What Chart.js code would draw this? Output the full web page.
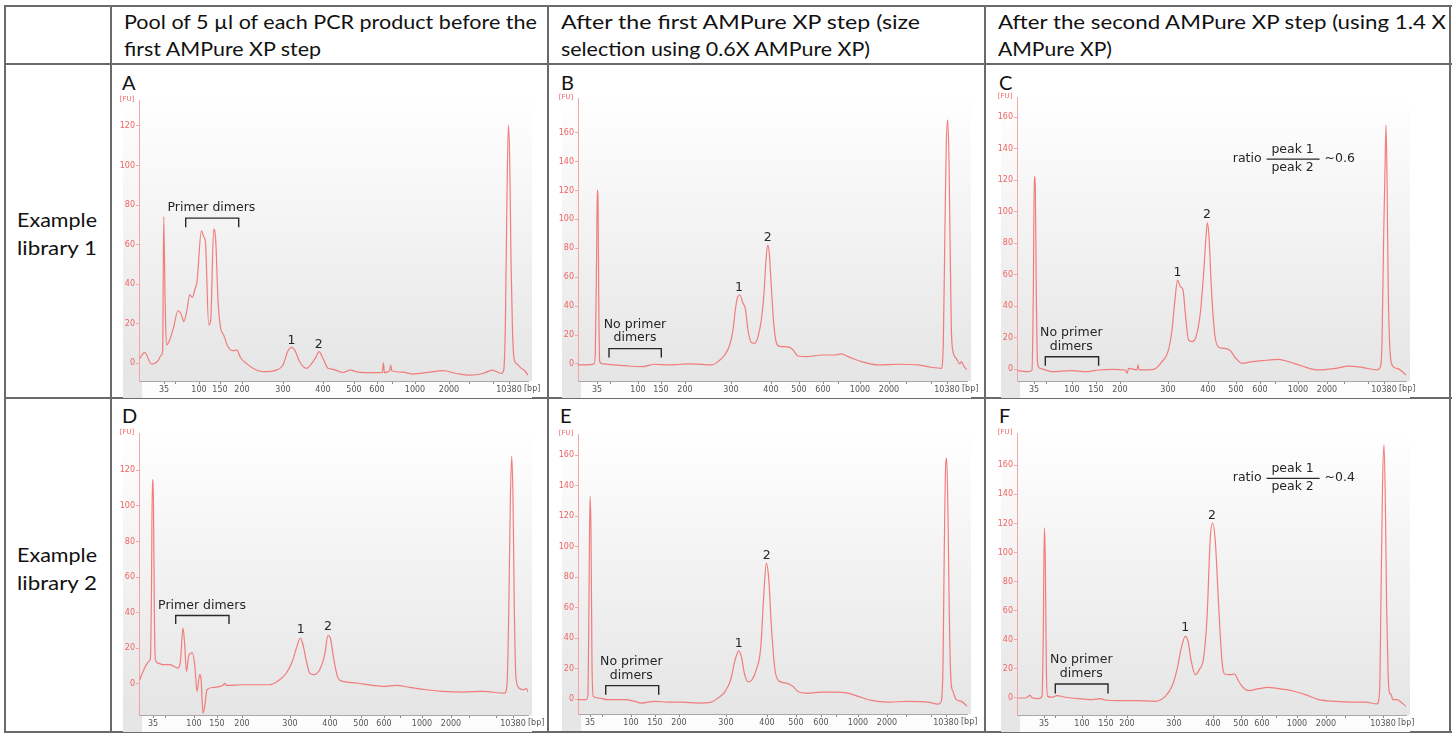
<!DOCTYPE html>
<html><head><meta charset="utf-8">
<script src="https://cdn.jsdelivr.net/npm/chart.js@4.4.0/dist/chart.umd.min.js"></script>
<style>
html,body{margin:0;padding:0;background:#fff;}
body{width:1455px;height:734px;position:relative;overflow:hidden;font-family:Lato,"Open Sans",sans-serif;}
.hl{position:absolute;height:2px;background:#6a6a6a;}
.vl{position:absolute;width:2px;background:#6a6a6a;}
.txt{position:absolute;white-space:nowrap;font-family:Lato,sans-serif;font-size:19px;line-height:26px;color:#111;transform-origin:0 50%;}
.lbl{position:absolute;white-space:nowrap;font-family:Lato,sans-serif;font-size:20px;line-height:20px;color:#111;}
.panel{position:absolute;}
</style></head><body>

<div class="hl" style="left:5px;top:5px;width:1447px"></div>
<div class="hl" style="left:5px;top:63px;width:1447px"></div>
<div class="hl" style="left:5px;top:397px;width:1447px"></div>
<div class="hl" style="left:5px;top:731px;width:1447px"></div>
<div class="vl" style="left:4px;top:5px;height:728px"></div>
<div class="vl" style="left:110px;top:5px;height:728px"></div>
<div class="vl" style="left:547px;top:5px;height:728px"></div>
<div class="vl" style="left:984px;top:5px;height:728px"></div>
<div class="vl" style="left:1449px;top:5px;height:728px"></div>

<div class="txt" style="left:124px;top:9px" data-w="413">Pool of 5 µl of each PCR product before the</div>
<div class="txt" style="left:124px;top:36px" data-w="197">first AMPure XP step</div>
<div class="txt" style="left:561px;top:9px" data-w="359">After the first AMPure XP step (size</div>
<div class="txt" style="left:561px;top:36px" data-w="309">selection using 0.6X AMPure XP)</div>
<div class="txt" style="left:998px;top:9px" data-w="448">After the second AMPure XP step (using 1.4 X</div>
<div class="txt" style="left:998px;top:36px" data-w="114">AMPure XP)</div>
<div class="txt" style="left:17px;top:207px" data-w="80">Example</div>
<div class="txt" style="left:17px;top:235px" data-w="80">library 1</div>
<div class="txt" style="left:17px;top:542px" data-w="80">Example</div>
<div class="txt" style="left:17px;top:570px" data-w="80">library 2</div>

<div class="lbl" style="left:122px;top:72px">A</div>
<div class="lbl" style="left:561px;top:72px">B</div>
<div class="lbl" style="left:999px;top:72px">C</div>
<div class="lbl" style="left:122px;top:405px">D</div>
<div class="lbl" style="left:560px;top:405px">E</div>
<div class="lbl" style="left:999px;top:405px">F</div>

<script>
// ---------- DATA ----------
// ladder sizes (bp) and the labels shown under the x axis
const ladderBp = [35, 50, 100, 150, 200, 300, 400, 500, 600, 700, 1000, 2000, 3000, 7000, 10380];
const ladderLabels = ['35', '', '100', '150', '200', '300', '400', '500', '600', '', '1000', '2000', '', '', '10380'];

// migration position of each ladder band, per run (same units as the trace x values)
const ladderA = [25, 36, 60, 81, 103, 144, 184, 215, 238, 253, 276, 310, 330, 354, 370];
const ladderB = [19, 32, 60, 83, 107, 153, 193, 221, 245, 260, 282, 311, 328, 353, 369];
const ladderC = [17, 29, 55, 79, 103, 151, 191, 219, 243, 258, 281, 310, 327, 351, 367];
const ladderD = [14, 26, 55, 78, 103, 151, 191, 222, 245, 261, 283, 312, 330, 357, 374];
const ladderE = [12, 24, 53, 77, 101, 148, 189, 218, 243, 258, 280, 309, 328, 353, 368];
const ladderF = [27, 38, 65, 89, 110, 157, 196, 224, 245, 259, 280, 309, 328, 352, 366];

// y tick values (FU)
const yTicks120 = [0, 20, 40, 60, 80, 100, 120];
const yTicks160 = [0, 20, 40, 60, 80, 100, 120, 140, 160];

// electropherogram traces: [migration position, fluorescence (FU)]
const traceA = [[0.7,2.5],[5.7,5.6],[12.4,-0.3],[19,1.3],[22.4,4.2],[23.7,6.7],[24.7,74.2],[26,35.4],[27.4,9.3],[30.7,11.8],[34.7,18.5],[39,26.6],[42.4,24.5],[44.7,21.1],[48,27],[50.7,34.6],[53.4,33.4],[55.7,37.1],[58,41.3],[62.4,67.1],[64.7,64.1],[66.4,61.6],[69.7,19.4],[71.7,21.9],[74.7,67.8],[76.7,62.4],[79,32],[81.4,18.5],[84.7,14.3],[89,8.4],[94,6.4],[98,6.7],[101.4,3],[107.4,0],[114,-2.5],[124,-4.2],[137.4,-3.4],[144,-0.8],[149,6.4],[152.4,8.1],[155.7,6.7],[160.7,0.8],[167.4,-2.5],[172.4,-0.3],[176.7,2.9],[180,5.9],[184,2.5],[189,-2.5],[194,-3],[204,-4.6],[211.4,-3.4],[219,-4.4],[234,-4.7],[243.4,-4.6],[244.4,0.3],[245.4,-4.7],[250.7,-3.7],[251.7,-0.7],[252.7,-3.7],[264,-4.4],[274,-5.4],[290.7,-4.4],[304,-3.7],[317.4,-5.1],[330.7,-5.9],[344,-5.1],[353.4,-3.4],[362.4,-5.1],[364.7,-3.4],[366.4,20.2],[368,86],[369.4,120.6],[370.7,102.9],[372,52.3],[373.4,18.5],[375,2.5],[378,-0.3],[382.4,-2.5],[385.7,-3.7],[389,-5.9]];
const traceB = [[0,-0.7],[10,-0.7],[16,0],[17.3,7.4],[18.7,81],[19.3,120.3],[20,115.7],[20.7,48.9],[21.7,1.6],[25,0],[36.7,-0.7],[50,-1.4],[65,-1.8],[76.7,-0.2],[90,-0.7],[103.3,-0.2],[113.3,0],[133.3,-0.7],[140,1.6],[146.7,6.2],[151.7,13.1],[155,23.5],[157.3,37.3],[159.3,45.4],[161.7,47.7],[165,42],[167.3,38.5],[170,23.5],[173.3,14.8],[176.7,14.3],[180,18.9],[183.3,30.4],[186,48.9],[188,71.9],[189.7,82.3],[191.3,76.5],[193.3,53.5],[196,25.8],[199.3,13.1],[203.3,12],[211.7,11.5],[215,9.7],[220,5.5],[230,5.1],[243.3,6.2],[256.7,6.2],[263.3,6.9],[270,5.1],[283.3,1.6],[300,-0.7],[320,-0.2],[340,-0.7],[353.3,-2.3],[363.3,-3],[365.3,14.3],[366.7,81.2],[368.3,152.6],[369.7,168.8],[371,141.1],[372,88.1],[373.3,25.8],[374.7,9.7],[378.3,3.9],[381.7,0],[383.3,1.6],[386,-1.8],[389.3,-4.1]];
const traceC = [[0.6,-0.8],[11.6,-1.5],[15,-0.4],[16.3,48.3],[17.3,122.3],[18.3,116],[19.3,48.3],[20.6,3.8],[23.3,0.6],[35,-1.5],[55,-0.8],[68.3,-1.5],[81.6,-0.4],[95,0],[108.3,-0.4],[110,-2.5],[111.6,0.6],[120,-0.4],[121,2.8],[122.3,-0.4],[136.6,0],[145,4.9],[151,11.2],[155,25],[157.6,41.9],[160.6,56.7],[163.3,52.5],[166,50.4],[168.3,35.6],[171.6,18.6],[175,17.6],[179,20.7],[183.3,35.6],[186.6,61],[189,84.2],[190.3,93.1],[192,84.2],[194.3,52.5],[197.6,22.9],[201.6,14],[207.6,13.3],[213.3,11.9],[217.6,8],[225,3.8],[235,4.9],[245,5.5],[261.6,6.3],[271.6,4.9],[285,2.1],[301.6,-0.4],[318.3,0.6],[331.6,2.1],[345,1.3],[360,-0.4],[363.3,1.3],[365,16.5],[366.6,82.1],[368,126.6],[369,155.1],[370,122.3],[371.3,48.3],[372.6,16.5],[375,2.8],[380,0.6],[383.3,-0.4],[389,-3.6]];
const traceD = [[0.7,2.2],[4,6.9],[7.4,10.7],[10,12.6],[11.4,14.4],[12.4,48.2],[13.4,114.8],[14.4,104.4],[15.4,38.8],[16.4,13.5],[19,11.6],[24,10.7],[30.7,10.7],[34.7,9.8],[39,8.8],[41.4,12.6],[44,31.3],[45.7,21.9],[47.4,6.9],[50,16.3],[53.4,17.3],[55.7,10.7],[58,-4.3],[60.7,5.1],[62,3.2],[64,-16.5],[65.7,-12.8],[68,-3.4],[74,-2.1],[84,-0.9],[85.7,0.2],[87.4,-0.9],[104,-0.6],[117.4,-0.6],[130.7,-0.6],[140.7,2.2],[147.4,6],[153.4,12.6],[157.4,20.1],[161.4,25.7],[164,21.9],[167.4,12.6],[170.7,6],[174.7,5.1],[180.7,7.9],[185.7,16.3],[189,27.2],[191.4,25.7],[194,16.3],[199,3.2],[204,1.3],[217.4,0.4],[234,-0.9],[244,-1.5],[257.4,-0.9],[270.7,-2.1],[287.4,-3.4],[304,-4.3],[324,-4.7],[344,-4.3],[365.7,-5.3],[368,-0.6],[369.7,38.8],[371.4,104.4],[372.7,127.9],[374,104.4],[375.4,38.8],[377,3.2],[380,-2.4],[384,-3.4],[387.4,-2.8],[390,-5.8]];
const traceE = [[0,-0.4],[8.3,-0.4],[10,2.8],[11,66.3],[12,133],[13,110],[14,22.5],[15.3,1.8],[20,0.7],[30,-0.4],[46.7,-0.4],[56.7,-1.5],[63.3,-2.6],[76.7,-1.5],[90,-2],[103.3,-2],[120,-2.6],[133.3,-2],[140,0.7],[146.7,4.6],[152.7,12.7],[156.7,24.7],[160.7,31.7],[163.3,28],[166.7,16],[170,11.2],[174,12.7],[178.3,19.3],[182.7,33.5],[186,70.7],[188.3,89.3],[190.7,79.4],[193.3,48.8],[196.7,20.4],[200.7,12],[208.3,10.5],[215,8.3],[220,5],[230,3.9],[243.3,4.6],[256.7,4.6],[270,3.9],[280,1.8],[293.3,-0.9],[310,-2],[330,-1.5],[350,-2],[360,-3.3],[363.3,-1.5],[365,22.5],[366.3,99.1],[367.7,153.9],[368.7,158.2],[370,121],[371.3,55.4],[373,11.6],[375,5],[378.3,-0.4],[383.3,-1.5],[389.3,-4.8]];
const traceF = [[1,0],[8.3,0],[13.3,1.8],[14.3,0.5],[21.6,-0.5],[25,1.1],[26.3,45.8],[27.3,116.9],[28.3,96.3],[29.3,22.9],[30.6,1.1],[35,0.5],[40,1.6],[48.3,0.5],[61.6,-0.5],[75,-1.1],[83.3,-0.5],[88.3,-1.4],[101.6,-1.8],[118.3,-1.8],[138.3,-2.3],[148.3,1.1],[155,8],[160,19.5],[164.3,34.4],[168.3,42.4],[171,39],[174.3,25.2],[178.3,16],[182.3,19.5],[186.6,27.5],[190,55],[193.3,110],[195.6,120.3],[198.3,107.7],[201.6,64.2],[205,25.2],[207.6,16.5],[213.3,16],[217.6,16.5],[221.6,11.5],[226.6,6.9],[231.6,5],[241.6,6.4],[251.6,7.3],[261.6,6.4],[275,5],[288.3,2.3],[301.6,-1.1],[318.3,-2.3],[335,-2.8],[348.3,-2.8],[360,-4.1],[362.6,4.6],[364,68.8],[365.6,149],[367,174.2],[368.3,137.5],[369.6,64.2],[371,18.3],[372.6,3.4],[374.3,2.3],[375.6,-1.1],[380,-1.1],[385,-3.4],[389,-5.7]];

// ---------- LAYOUT / STYLE ----------
const PAD_L = 40, PAD_R = 30, PAD_T = 20, PAD_B = 22, X_MAX = 389;
const TRACE_COLOR = 'rgba(242,112,112,0.9)';
const Y_COLOR = '#f06464';
const Y_AXIS_COLOR = '#f4a6a6';
const NOTE_FONT = '12.5px "DejaVu Sans"';

const bgPlugin = {
  id: 'bg',
  beforeDraw(chart) {
    const {ctx, chartArea: a} = chart;
    ctx.save();
    const g = ctx.createLinearGradient(0, a.top - 3, 0, a.bottom);
    g.addColorStop(0, '#ffffff');
    g.addColorStop(1, '#e5e5e5');
    ctx.fillStyle = g;
    ctx.fillRect(a.left - 16, a.top - 3, a.right - a.left + 20, a.bottom - a.top + 3);
    ctx.fillStyle = '#fcfcfc';
    ctx.fillRect(a.left + 3, a.bottom, a.right - a.left + 1, 17);
    ctx.fillStyle = '#e6e6e6';
    ctx.fillRect(a.left - 16, a.bottom - 5, 19, 22);
    ctx.restore();
  }
};

const notesPlugin = {
  id: 'notes',
  afterDraw(chart, args, opts) {
    const {ctx, chartArea: a, scales: {x, y}} = chart;
    ctx.save();
    // [FU] and [bp]
    ctx.font = '7px "DejaVu Sans"';
    ctx.fillStyle = Y_COLOR;
    ctx.textAlign = 'center'; ctx.textBaseline = 'middle';
    ctx.fillText('[FU]', a.left - 12, a.top - 1);
    ctx.font = '8px "DejaVu Sans"';
    ctx.fillStyle = '#555';
    ctx.textAlign = 'left';
    const lastTick = x.getPixelForValue(opts.ladder[opts.ladder.length - 1]);
    ctx.fillText('[bp]', lastTick + 15, a.bottom + 8);
    // annotations
    ctx.fillStyle = '#262626';
    ctx.strokeStyle = '#2a2a2a';
    ctx.lineWidth = 1.4;
    ctx.font = NOTE_FONT;
    ctx.textAlign = 'center';
    for (const n of opts.notes) {
      if (n.t === 'text') {
        ctx.fillText(n.s, x.getPixelForValue(n.x), y.getPixelForValue(n.y));
      } else if (n.t === 'bracket') {
        const x1 = x.getPixelForValue(n.x1), x2 = x.getPixelForValue(n.x2);
        const yt = y.getPixelForValue(n.top), yl = y.getPixelForValue(n.leg);
        ctx.beginPath();
        ctx.moveTo(x1, yl); ctx.lineTo(x1, yt); ctx.lineTo(x2, yt); ctx.lineTo(x2, yl);
        ctx.stroke();
      } else if (n.t === 'ratio') {
        const cx = x.getPixelForValue(n.x), cy = y.getPixelForValue(n.y);
        ctx.textAlign = 'right';
        ctx.fillText('ratio', cx - 31, cy);
        ctx.textAlign = 'center';
        ctx.fillText('peak 1', cx, cy - 9);
        ctx.fillText('peak 2', cx, cy + 9);
        ctx.beginPath(); ctx.lineWidth = 1.2;
        ctx.moveTo(cx - 26, cy + 0.5); ctx.lineTo(cx + 27, cy + 0.5); ctx.stroke();
        ctx.textAlign = 'left';
        ctx.fillText(n.v, cx + 32, cy);
        ctx.textAlign = 'center';
      }
    }
    ctx.restore();
  }
};

function makePanel(p) {
  const H = p.bottom - p.top;
  const div = document.createElement('div');
  div.className = 'panel';
  div.style.left = (p.left - PAD_L) + 'px';
  div.style.top = (p.top - PAD_T) + 'px';
  div.style.width = (PAD_L + X_MAX + PAD_R) + 'px';
  div.style.height = (PAD_T + H + PAD_B) + 'px';
  const cv = document.createElement('canvas');
  div.appendChild(cv);
  document.body.appendChild(div);
  new Chart(cv, {
    type: 'line',
    data: {
      datasets: [{
        data: p.trace.map(d => ({x: d[0], y: d[1]})),
        borderColor: TRACE_COLOR,
        borderWidth: 1.2,
        pointRadius: 0,
        fill: false,
        cubicInterpolationMode: 'monotone'
      }]
    },
    options: {
      responsive: true,
      maintainAspectRatio: false,
      animation: false,
      events: [],
      layout: {padding: {left: 0, right: PAD_R, top: PAD_T, bottom: 0}},
      plugins: {
        legend: {display: false},
        tooltip: {enabled: false},
        notes: {notes: p.notes, ladder: p.ladder}
      },
      scales: {
        x: {
          type: 'linear', min: 0, max: X_MAX,
          afterFit: s => { s.height = PAD_B; },
          afterBuildTicks: s => { s.ticks = p.ladder.map(v => ({value: v})); },
          ticks: {
            autoSkip: false, maxRotation: 0, minRotation: 0, padding: 1,
            color: '#555', font: {family: 'DejaVu Sans', size: 8},
            callback: (v, i) => ladderLabels[i]
          },
          grid: {drawOnChartArea: false, tickLength: 3, color: '#8a8a8a'},
          border: {color: '#a8a8a8', width: 1}
        },
        y: {
          min: p.ymin, max: p.ymax,
          afterFit: s => { s.width = PAD_L; },
          afterBuildTicks: s => { s.ticks = p.yTicks.map(v => ({value: v})); },
          ticks: {
            padding: 1, color: Y_COLOR,
            font: {family: 'DejaVu Sans', size: 8},
            callback: v => String(v)
          },
          grid: {drawOnChartArea: false, tickLength: 3, color: Y_AXIS_COLOR},
          border: {color: Y_AXIS_COLOR, width: 1}
        }
      }
    },
    plugins: [bgPlugin, notesPlugin]
  });
}

const panels = [
  {left: 139, top: 100, bottom: 381, ymin: -8.9, ymax: 133.1, trace: traceA, ladder: ladderA, yTicks: yTicks120,
   notes: [{t:'text', s:'Primer dimers', x:72.4, y:78.4}, {t:'bracket', x1:46.7, x2:99.7, top:73.4, leg:68.8},
           {t:'text', s:'1', x:152.4, y:11.3}, {t:'text', s:'2', x:179.7, y:9.6}]},
  {left: 578, top: 98, bottom: 381, ymin: -11.8, ymax: 184, trace: traceB, ladder: ladderB, yTicks: yTicks160,
   notes: [{t:'text', s:'No primer', x:57, y:27.4}, {t:'text', s:'dimers', x:57, y:17.8},
           {t:'bracket', x1:31, x2:83.3, top:10.6, leg:4.4},
           {t:'text', s:'1', x:161, y:53}, {t:'text', s:'2', x:189.7, y:87.4}]},
  {left: 1017, top: 97, bottom: 381, ymin: -7.4, ymax: 172.9, trace: traceC, ladder: ladderC, yTicks: yTicks160,
   notes: [{t:'text', s:'No primer', x:54.3, y:23.5}, {t:'text', s:'dimers', x:54.3, y:14.4},
           {t:'bracket', x1:28.3, x2:81.6, top:8, leg:2.3},
           {t:'text', s:'1', x:160.6, y:61.4}, {t:'text', s:'2', x:190, y:98.4},
           {t:'ratio', x:275.6, y:133.8, v:'~0.6'}]},
  {left: 139, top: 433, bottom: 715, ymin: -17.6, ymax: 141, trace: traceD, ladder: ladderD, yTicks: yTicks120,
   notes: [{t:'text', s:'Primer dimers', x:63, y:43.9}, {t:'bracket', x1:36.7, x2:90, top:38.4, leg:33.6},
           {t:'text', s:'1', x:161.7, y:30.4}, {t:'text', s:'2', x:189, y:32.1}]},
  {left: 578, top: 434, bottom: 714, ymin: -9.8, ymax: 174, trace: traceE, ladder: ladderE, yTicks: yTicks160,
   notes: [{t:'text', s:'No primer', x:53.3, y:24.3}, {t:'text', s:'dimers', x:53.3, y:15.3},
           {t:'bracket', x1:27.7, x2:80.7, top:8.8, leg:2.8},
           {t:'text', s:'1', x:160.7, y:36.1}, {t:'text', s:'2', x:188.7, y:94.3}]},
  {left: 1017, top: 433, bottom: 715, ymin: -11.7, ymax: 182.2, trace: traceF, ladder: ladderF, yTicks: yTicks160,
   notes: [{t:'text', s:'No primer', x:64.3, y:26.4}, {t:'text', s:'dimers', x:64.3, y:16.5},
           {t:'bracket', x1:38.3, x2:91, top:9.6, leg:3},
           {t:'text', s:'1', x:168.3, y:48.1}, {t:'text', s:'2', x:195, y:125.6},
           {t:'ratio', x:275.6, y:151.3, v:'~0.4'}]}
];
panels.forEach(makePanel);

function fitText() {
  document.querySelectorAll('[data-w]').forEach(el => {
    el.style.transform = 'none';
    const w = el.getBoundingClientRect().width;
    if (w > 0) el.style.transform = 'scaleX(' + (parseFloat(el.dataset.w) / w) + ')';
  });
}
fitText();
if (document.fonts && document.fonts.ready) document.fonts.ready.then(fitText);
</script>
</body></html>
